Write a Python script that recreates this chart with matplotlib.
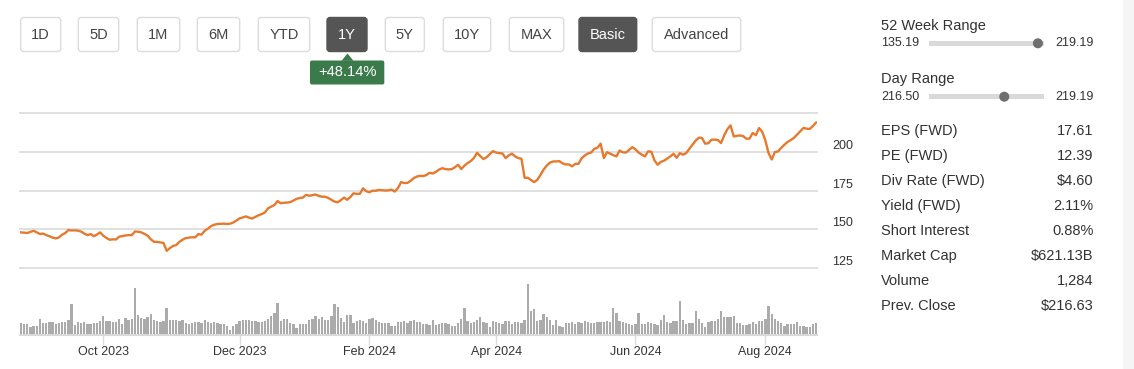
import matplotlib
matplotlib.use("Agg")
import matplotlib.pyplot as plt
import numpy as np
import pandas as pd
from matplotlib.patches import FancyBboxPatch, Polygon, Circle, Rectangle
import matplotlib.transforms as mtransforms

plt.rcParams['font.family'] = ['Liberation Sans', 'DejaVu Sans']

# ---------------- data ----------------
holidays = ['2023-09-04', '2023-11-23', '2023-12-25', '2024-01-01', '2024-01-15',
            '2024-02-19', '2024-03-29', '2024-05-27', '2024-06-19', '2024-07-04']
dates = pd.bdate_range('2023-08-24', '2024-08-23')
dates = dates[~dates.isin(pd.to_datetime(holidays))]

price = [
    148.0, 147.8, 147.6, 148.3, 149.0, 148.0, 146.9, 147.2, 146.2, 145.5,
    144.6, 144.1, 144.7, 146.5, 147.6, 149.5, 149.2, 149.3, 149.1, 148.5,
    147.2, 146.2, 146.9, 145.5, 146.6, 148.0, 145.8, 144.4, 143.2, 143.5,
    143.4, 145.2, 145.6, 146.0, 146.2, 146.2, 148.6, 148.4, 148.0, 147.0,
    145.8, 143.5, 141.9, 141.8, 141.5, 141.2, 136.1, 137.8, 139.2, 139.8,
    141.8, 143.2, 144.3, 144.6, 144.8, 144.8, 146.9, 146.5, 149.0, 150.4,
    152.0, 152.9, 153.4, 153.5, 153.6, 153.4, 153.6, 154.3, 155.6, 157.0,
    157.6, 158.3, 157.5, 156.9, 158.0, 159.0, 159.8, 160.8, 163.5, 164.6,
    165.6, 168.2, 166.8, 167.1, 167.2, 167.5, 168.5, 169.6, 170.2, 170.4,
    172.2, 171.6, 172.0, 172.4, 171.5, 171.0, 171.0, 170.2, 169.0, 167.8,
    167.4, 168.8, 170.4, 169.0, 170.8, 173.2, 172.8, 172.9, 176.4, 174.5,
    173.9, 174.9, 174.8, 175.4, 175.2, 175.0, 175.1, 175.6, 174.3, 176.5,
    180.4, 179.8, 179.9, 181.2, 183.0, 184.0, 184.5, 184.3, 185.0, 186.4,
    186.0, 187.0, 188.5, 189.4, 188.8, 188.6, 188.8, 190.0, 191.6, 188.8,
    191.0, 192.7, 194.0, 196.0, 199.3, 197.2, 195.3, 196.5, 198.5, 200.4,
    199.5, 199.1, 198.9, 195.9, 197.6, 198.8, 197.0, 195.9, 195.5, 183.2,
    183.2, 181.8, 180.4, 181.9, 185.0, 188.5, 191.1, 193.0, 193.7, 193.8,
    193.9, 192.5, 191.8, 191.8, 190.6, 192.2, 192.2, 195.8, 197.6, 198.9,
    199.5, 201.9, 202.6, 205.2, 195.9, 199.7, 198.8, 197.8, 197.0, 200.8,
    199.6, 199.5, 201.2, 203.0, 201.5, 199.5, 198.1, 197.0, 200.3, 200.0,
    194.4, 191.6, 193.5, 194.2, 195.6, 197.0, 198.7, 196.1, 199.1, 198.1,
    199.1, 201.9, 204.5, 207.2, 209.1, 208.9, 205.2, 205.5, 207.8, 207.8,
    207.6, 205.6, 210.6, 214.5, 217.0, 209.9, 210.3, 210.5, 210.1, 208.4,
    208.5, 212.1, 210.7, 215.3, 212.9, 207.3, 199.2, 195.0, 199.8, 200.2,
    202.5, 204.5, 206.3, 207.5, 208.9, 211.0, 213.0, 215.3, 214.9, 214.7,
    216.6, 218.8,
]

volume = [
    35, 33, 32, 25, 27, 27, 50, 35, 37, 39,
    38, 32, 37, 38, 40, 45, 95, 30, 38, 37,
    38, 32, 33, 35, 35, 43, 57, 43, 43, 40,
    40, 50, 32, 53, 45, 50, 143, 62, 53, 48,
    55, 65, 45, 43, 40, 43, 83, 45, 45, 45,
    43, 45, 35, 32, 37, 38, 38, 35, 45, 40, 36,
    38, 37, 32, 32, 27, 15, 27, 32, 42, 45,
    45, 45, 43, 43, 38, 38, 43, 50, 57, 67,
    98, 43, 50, 50, 35, 32, 20, 32, 32, 33,
    45, 50, 57, 50, 55, 47, 45, 57, 95, 85,
    53, 40, 62, 62, 37, 43, 45, 42, 35, 50,
    53, 45, 40, 37, 35, 35, 28, 28, 38, 38,
    43, 37, 42, 45, 40,
    40, 32, 32, 30, 45, 30, 33, 35, 35, 32,
    28, 28, 37, 50, 83, 43, 37, 40, 47, 55,
    40, 37, 25, 42, 40, 35, 33, 43, 43, 33,
    38, 38, 35, 47, 155, 73, 80, 43, 47, 65,
    55, 45, 30, 45, 28, 25, 37, 35, 40, 33,
    40, 35, 42, 38, 35, 37, 38, 38, 40, 42, 38,
    83, 68, 42, 38, 35, 32, 30, 32, 68, 33,
    33, 38, 35, 32, 30, 45, 62, 38, 35, 42,
    42, 102, 45, 33, 35, 35, 73, 48, 35, 25,
    38, 42, 42, 50, 72, 55, 55, 55, 58, 37,
    37, 30, 30, 32, 38, 32, 42, 43, 50, 88,
    65, 50, 42, 37, 28, 32, 32, 33, 38, 28,
    28, 25, 25, 32, 35,
]

y_ticks = [125, 150, 175, 200]
y_grid = [125, 150, 175, 200, 225]
month_starts = ['2023-10', '2023-12', '2024-02', '2024-04', '2024-06', '2024-08']
month_labels = ['Oct 2023', 'Dec 2023', 'Feb 2024', 'Apr 2024', 'Jun 2024', 'Aug 2024']

range_buttons = ['1D', '5D', '1M', '6M', 'YTD', '1Y', '5Y', '10Y', 'MAX']
view_buttons = ['Basic', 'Advanced']
active_buttons = ['1Y', 'Basic']
change_label = '+48.14%'

week52_low, week52_high = 135.19, 219.19
day_low, day_high = 216.50, 219.19
current_price = 218.3

stat_labels = ['EPS (FWD)', 'PE (FWD)', 'Div Rate (FWD)', 'Yield (FWD)',
               'Short Interest', 'Market Cap', 'Volume', 'Prev. Close']
stat_values = ['17.61', '12.39', '$4.60', '2.11%', '0.88%', '$621.13B', '1,284', '$216.63']

# ---------------- figure ----------------
W, H = 1134, 369
fig = plt.figure(figsize=(W / 100, H / 100), dpi=100)
fig.patch.set_facecolor('white')

n = len(price)
x = np.arange(n)
dates = dates[:n]
xlim = (-0.3, n - 0.7)

# price axes
ax = fig.add_axes([20 / W, (H - 268) / H, 797 / W, 155 / H])
ax.set_xlim(*xlim)
ax.set_ylim(125, 225)
for g in y_grid:
    ax.axhline(g, color='#e0e0e0', lw=1.4, zorder=1, clip_on=False)
ax.plot(x, price, color='#e57a2f', lw=1.7, zorder=3, solid_joinstyle='round')
ax.axis('off')
lbl_tf = mtransforms.offset_copy(ax.get_yaxis_transform(), fig=fig, x=0, y=6, units='dots')
for v in y_ticks:
    ax.text(1.0 + 15 / 797, v, str(v), transform=lbl_tf, ha='left', va='center',
            fontsize=9, color='#333333')

# volume axes
axv = fig.add_axes([20 / W, (H - 335) / H, 797 / W, 51 / H])
axv.set_xlim(*xlim)
axv.set_ylim(0, max(volume))
axv.bar(x, volume, width=0.74, color='#ababab', linewidth=0, zorder=2)
for s in ['top', 'left', 'right']:
    axv.spines[s].set_visible(False)
axv.spines['bottom'].set_color('#d9d9d9')
axv.spines['bottom'].set_linewidth(1.5)
axv.set_yticks([])
tick_pos = [int(np.argmax(dates.strftime('%Y-%m') == m)) for m in month_starts]
axv.set_xticks(tick_pos)
axv.set_xticklabels(month_labels)
axv.tick_params(axis='x', length=7, width=1, color='#dddddd', labelsize=9,
                labelcolor='#333333', pad=1)
axv.set_facecolor('none')

# overlay in pixel coordinates for UI elements
ov = fig.add_axes([0, 0, 1, 1])
ov.set_xlim(0, W)
ov.set_ylim(H, 0)
ov.axis('off')
ov.set_facecolor('none')

# right grey band
ov.add_patch(Rectangle((1123, 0), 11, H, color='#f5f5f5', lw=0, zorder=0))

btn_x = [(20.7, 60.7), (78.3, 118.7), (137.3, 179.7), (197.3, 239.7), (258.3, 309.7),
         (327, 367), (385.3, 424.3), (443.3, 490.7), (509.3, 563.7),
         (579, 636.7), (652.3, 740.7)]
btn_y0, btn_y1 = 17.5, 51.5
for (x0, x1), label in zip(btn_x, range_buttons + view_buttons):
    active = label in active_buttons
    ov.add_patch(FancyBboxPatch((x0 + 3, btn_y0 + 3), x1 - x0 - 6, btn_y1 - btn_y0 - 6,
                                boxstyle='round,pad=3', fc='#555555' if active else 'white',
                                ec='#555555' if active else '#dcdcdc', lw=1.0, zorder=2))
    ov.text((x0 + x1) / 2, (btn_y0 + btn_y1) / 2 + 0.5, label, ha='center', va='center',
            fontsize=10.5, color='white' if active else '#444444', zorder=3)

# change tooltip
green = '#3b7b4b'
ov.add_patch(FancyBboxPatch((312, 62.5), 70.3, 20, boxstyle='round,pad=2',
                            fc=green, ec=green, lw=0, zorder=2))
ov.add_patch(Polygon([[341.5, 60.8], [347.5, 53.5], [353.5, 60.8]], closed=True,
                     fc=green, ec=green, lw=0, zorder=2))
ov.text(347.2, 72.5, change_label, ha='center', va='center', fontsize=10.6,
        color='white', zorder=3)

# range sliders
def slider(y_text, y_bar, title, lo, hi, cur):
    ov.text(881, y_text, title, ha='left', va='center', fontsize=10.5, color='#333333')
    ov.text(881, y_bar, f'{lo:.2f}', ha='left', va='center', fontsize=9, color='#333333')
    ov.text(1093.5, y_bar, f'{hi:.2f}', ha='right', va='center', fontsize=9, color='#333333')
    bx0, bx1 = 929, 1044
    ov.add_patch(Rectangle((bx0, y_bar - 2.5), bx1 - bx0, 5, color='#d9d9d9', lw=0, zorder=2))
    r = 5
    f = (cur - lo) / (hi - lo)
    cx = bx0 + r + f * (bx1 - bx0 - 2 * r)
    ov.add_patch(Circle((cx, y_bar), r, color='#6f6f6f', lw=0, zorder=3))

slider(26, 43.3, '52 Week Range', week52_low, week52_high, current_price)
slider(79.3, 96.7, 'Day Range', day_low, day_high, current_price)

stat_y = [130.7, 156, 180.7, 206, 230.7, 255.7, 280.7, 306]
for yy, lab, val in zip(stat_y, stat_labels, stat_values):
    ov.text(881, yy, lab, ha='left', va='center', fontsize=10.5, color='#333333')
    ov.text(1093.5, yy, val, ha='right', va='center', fontsize=10.5, color='#333333')

fig.savefig('out.png', dpi=100, facecolor='white')
